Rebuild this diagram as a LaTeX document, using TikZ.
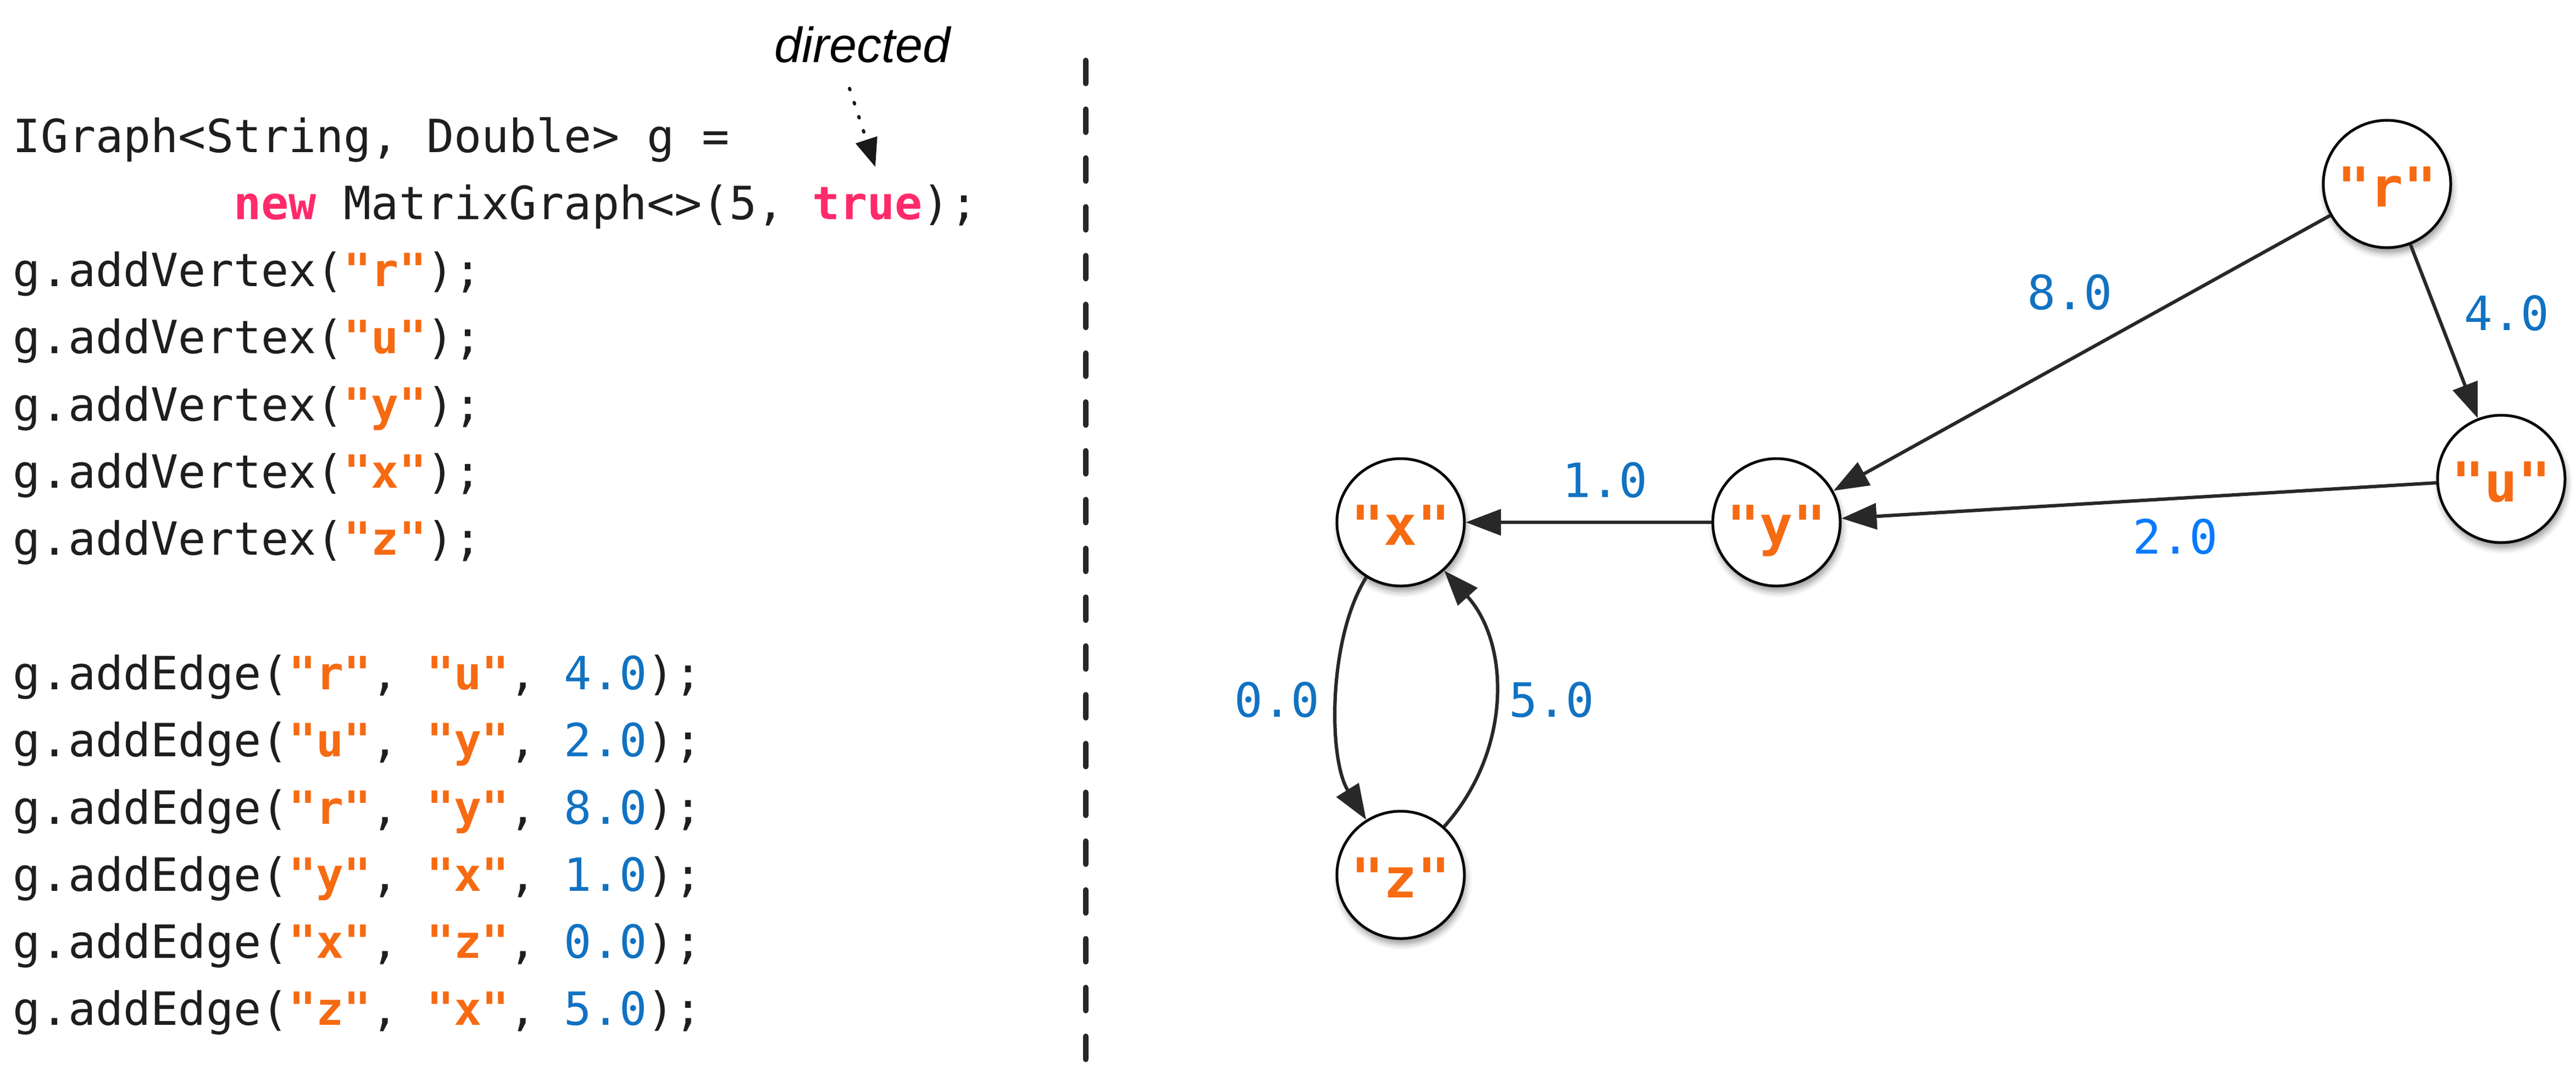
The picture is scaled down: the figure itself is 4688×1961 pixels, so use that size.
\documentclass[tikz,border=0pt]{standalone}
\usepackage{fontspec}
\setmonofont{DejaVu Sans Mono}
\newfontfamily\helvfont{Liberation Sans}
\usetikzlibrary{arrows.meta,shadows.blur}
\definecolor{codeblack}{RGB}{30,30,30}
\definecolor{strorange}{RGB}{246,106,18}
\definecolor{kwpink}{RGB}{255,42,106}
\definecolor{numblue}{RGB}{17,114,194}
\definecolor{brightblue}{RGB}{8,122,252}
\definecolor{edgegray}{RGB}{40,40,40}
\definecolor{circleblack}{RGB}{8,8,8}
\newcommand\kstr[1]{\textcolor{strorange}{\bfseries #1}}
\newcommand\kkw[1]{\textcolor{kwpink}{\bfseries #1}}
\newcommand\knum[1]{\textcolor{numblue}{#1}}
\frenchspacing
\begin{document}
\begin{tikzpicture}[x=0.1pt,y=-0.1pt,
  codeline/.style={anchor=base west, inner sep=0pt, text=codeblack,
    font=\ttfamily\fontsize{8.33}{10}\selectfont},
  vertex/.style={circle, draw=circleblack, line width=0.5pt, fill=white,
    minimum size=23.2pt, inner sep=0pt, text=strorange,
    font=\ttfamily\bfseries\fontsize{10}{12}\selectfont,
    text height=8.2pt, text depth=0pt,
    blur shadow={shadow xshift=0.3pt, shadow yshift=-1pt,
      shadow blur radius=1.1pt, shadow opacity=40}},
  elabel/.style={inner sep=0pt, text=numblue,
    font=\ttfamily\fontsize{8.6}{10}\selectfont,
    text height=6.27pt, text depth=0pt},
  edge/.style={draw=edgegray, line width=0.62pt,
    -{Triangle[length=6.4pt,width=4.7pt]}},
  sepline/.style={draw=edgegray, line width=1pt, line cap=round,
    dash pattern=on 4.2pt off 4.685pt},
  dotarrow/.style={draw=black!90, line width=0.6pt, line cap=round,
    dash pattern=on 0.25pt off 2.45pt,
    -{Triangle[length=5.2pt,width=4pt]}},
  note/.style={inner sep=0pt, anchor=base, text=black,
    font=\helvfont\itshape\fontsize{9}{11}\selectfont}
]
\useasboundingbox (0,0) rectangle (4688,1961);

% ---- code ----
\node[codeline] (c0) at (22,277) {IGraph<String, Double> g =};
\node[codeline] (c1) at (423.2,399.3) {\kkw{new} MatrixGraph<>(5, \kkw{true});};
\node[codeline] (c2) at (22,521.6) {g.addVertex(\kstr{"r"});};
\node[codeline] (c3) at (22,643.9) {g.addVertex(\kstr{"u"});};
\node[codeline] (c4) at (22,766.2) {g.addVertex(\kstr{"y"});};
\node[codeline] (c5) at (22,888.5) {g.addVertex(\kstr{"x"});};
\node[codeline] (c6) at (22,1010.8) {g.addVertex(\kstr{"z"});};
\node[codeline] (c8) at (22,1255.4) {g.addEdge(\kstr{"r"}, \kstr{"u"}, \knum{4.0});};
\node[codeline] (c9) at (22,1377.7) {g.addEdge(\kstr{"u"}, \kstr{"y"}, \knum{2.0});};
\node[codeline] (c10) at (22,1500) {g.addEdge(\kstr{"r"}, \kstr{"y"}, \knum{8.0});};
\node[codeline] (c11) at (22,1622.3) {g.addEdge(\kstr{"y"}, \kstr{"x"}, \knum{1.0});};
\node[codeline] (c12) at (22,1744.6) {g.addEdge(\kstr{"x"}, \kstr{"z"}, \knum{0.0});};
\node[codeline] (c13) at (22,1866.9) {g.addEdge(\kstr{"z"}, \kstr{"x"}, \knum{5.0});};

% ---- directed annotation ----
\node[note] (directed) at (1570,113) {directed};
\coordinate (dstart) at (1546,161);
\coordinate (dtip) at (1593,304);
\draw[dotarrow] (dstart) -- (dtip);

% ---- separator ----
\coordinate (s1) at (1976,110);
\coordinate (s2) at (1976,1929);
\draw[sepline] (s1) -- (s2);

% ---- graph ----
\node[vertex] (r) at (4344,335) {"r"};
\node[vertex] (u) at (4552,872) {"u"};
\node[vertex] (y) at (3233,951) {"y"};
\node[vertex] (x) at (2549,951) {"x"};
\node[vertex] (z) at (2549,1593) {"z"};

\draw[edge] (r) -- (u);
\draw[edge] (r) -- (y);
\draw[edge] (u) -- (y);
\draw[edge] (y) -- (x);
\draw[edge] (x) to[bend right=32, looseness=0.76] (z);
\draw[edge] (z) to[bend right=42] (x);

\node[elabel] (l8) at (3767,532) {8.0};
\node[elabel] (l4) at (4562,570) {4.0};
\node[elabel, text=brightblue] (l2) at (3959,977) {2.0};
\node[elabel] (l1) at (2921,874) {1.0};
\node[elabel] (l5) at (2824,1274) {5.0};
\node[elabel] (l0) at (2324,1274) {0.0};
\end{tikzpicture}
\end{document}
